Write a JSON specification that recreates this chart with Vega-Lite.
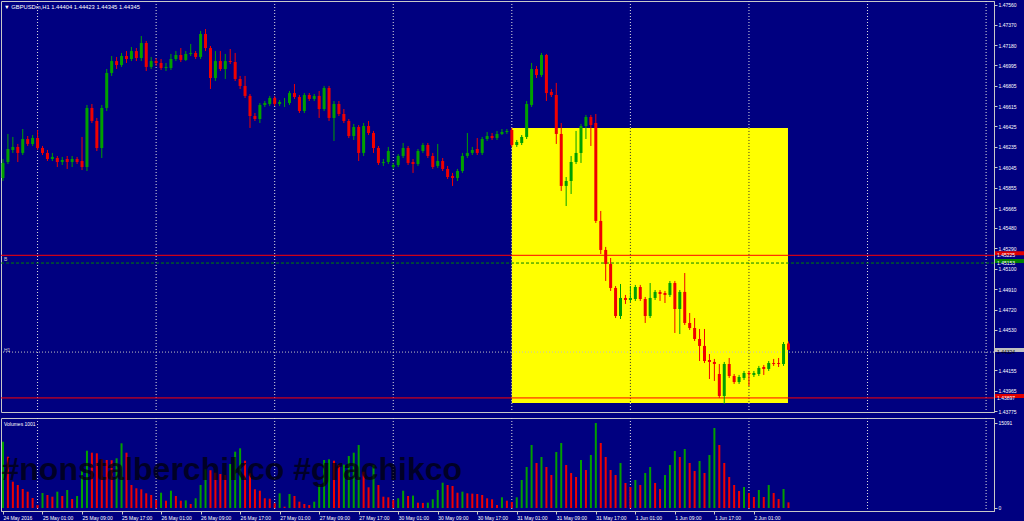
{
"$schema": "https://vega.github.io/schema/vega-lite/v6.json",
"background": "#000080",
"padding": 0,
"spacing": 2,
"config": {
  "font": "Liberation Sans",
  "view": {"stroke": "#c8c8c8", "strokeWidth": 1},
  "axis": {"labelColor": "#ffffff", "labelFontSize": 5, "labelFont": "Liberation Sans", "domainColor": "#c8c8c8", "tickColor": "#c8c8c8", "tickSize": 3, "grid": false, "labelPadding": 1, "labelOverlap": false, "labelSeparation": 0}
},
"datasets": {
  "bars": [
{"i":0,"o":1.45945,"h":1.46122,"l":1.45917,"c":1.46085,"v":11768},
{"i":1,"o":1.46094,"h":1.46355,"l":1.46075,"c":1.46215,"v":9106},
{"i":2,"o":1.46206,"h":1.46327,"l":1.46178,"c":1.46234,"v":4668},
{"i":3,"o":1.46234,"h":1.46262,"l":1.46094,"c":1.46178,"v":4083},
{"i":4,"o":1.46178,"h":1.46401,"l":1.46159,"c":1.46308,"v":3373},
{"i":5,"o":1.46308,"h":1.46336,"l":1.46243,"c":1.46262,"v":2893},
{"i":6,"o":1.46262,"h":1.46345,"l":1.46243,"c":1.46317,"v":1775},
{"i":7,"o":1.46317,"h":1.46392,"l":1.46206,"c":1.46224,"v":533},
{"i":8,"o":1.46224,"h":1.46243,"l":1.46159,"c":1.46178,"v":2663},
{"i":9,"o":1.46178,"h":1.46206,"l":1.46103,"c":1.46122,"v":2308},
{"i":10,"o":1.46122,"h":1.46178,"l":1.46103,"c":1.46141,"v":2006},
{"i":11,"o":1.46131,"h":1.46150,"l":1.46047,"c":1.46094,"v":2893},
{"i":12,"o":1.46094,"h":1.46141,"l":1.46066,"c":1.46113,"v":2130},
{"i":13,"o":1.46122,"h":1.46150,"l":1.46029,"c":1.46094,"v":3195},
{"i":14,"o":1.46094,"h":1.46150,"l":1.46047,"c":1.46122,"v":1598},
{"i":15,"o":1.46122,"h":1.46141,"l":1.46075,"c":1.46094,"v":2130},
{"i":16,"o":1.46103,"h":1.46327,"l":1.46019,"c":1.46047,"v":6621},
{"i":17,"o":1.46047,"h":1.46625,"l":1.46010,"c":1.46597,"v":10171},
{"i":18,"o":1.46597,"h":1.46634,"l":1.46457,"c":1.46476,"v":9816},
{"i":19,"o":1.46476,"h":1.46504,"l":1.46196,"c":1.46224,"v":9709},
{"i":20,"o":1.46224,"h":1.46625,"l":1.46131,"c":1.46597,"v":8644},
{"i":21,"o":1.46597,"h":1.46960,"l":1.46569,"c":1.46923,"v":8520},
{"i":22,"o":1.46923,"h":1.47081,"l":1.46895,"c":1.47034,"v":8480},
{"i":23,"o":1.47034,"h":1.47072,"l":1.46960,"c":1.46997,"v":8822},
{"i":24,"o":1.46997,"h":1.47109,"l":1.46979,"c":1.47081,"v":11484},
{"i":25,"o":1.47081,"h":1.47127,"l":1.47016,"c":1.47053,"v":9816},
{"i":26,"o":1.47053,"h":1.47165,"l":1.47034,"c":1.47127,"v":4083},
{"i":27,"o":1.47127,"h":1.47155,"l":1.47034,"c":1.47062,"v":3497},
{"i":28,"o":1.47062,"h":1.47267,"l":1.47034,"c":1.47202,"v":3319},
{"i":29,"o":1.47202,"h":1.47221,"l":1.46941,"c":1.46979,"v":2609},
{"i":30,"o":1.46979,"h":1.47072,"l":1.46960,"c":1.47034,"v":2308},
{"i":31,"o":1.47034,"h":1.47062,"l":1.46988,"c":1.47016,"v":1420},
{"i":32,"o":1.47016,"h":1.47053,"l":1.46951,"c":1.46969,"v":2716},
{"i":33,"o":1.46969,"h":1.47016,"l":1.46941,"c":1.46979,"v":1296},
{"i":34,"o":1.46969,"h":1.47100,"l":1.46951,"c":1.47053,"v":3071},
{"i":35,"o":1.47053,"h":1.47127,"l":1.47034,"c":1.47090,"v":2130},
{"i":36,"o":1.47090,"h":1.47155,"l":1.47025,"c":1.47044,"v":1296},
{"i":37,"o":1.47044,"h":1.47127,"l":1.47034,"c":1.47100,"v":1350},
{"i":38,"o":1.47100,"h":1.47193,"l":1.47081,"c":1.47109,"v":710},
{"i":39,"o":1.47109,"h":1.47127,"l":1.47053,"c":1.47072,"v":1722},
{"i":40,"o":1.47072,"h":1.47314,"l":1.47053,"c":1.47286,"v":4083},
{"i":41,"o":1.47286,"h":1.47332,"l":1.47127,"c":1.47155,"v":6869},
{"i":42,"o":1.47155,"h":1.47174,"l":1.46774,"c":1.46876,"v":6700},
{"i":43,"o":1.46876,"h":1.47127,"l":1.46848,"c":1.47034,"v":6266},
{"i":44,"o":1.47034,"h":1.47127,"l":1.46941,"c":1.46960,"v":6035},
{"i":45,"o":1.46960,"h":1.47100,"l":1.46867,"c":1.47034,"v":5858},
{"i":46,"o":1.47034,"h":1.47146,"l":1.47006,"c":1.47025,"v":7810},
{"i":47,"o":1.47025,"h":1.47109,"l":1.46848,"c":1.46867,"v":9993},
{"i":48,"o":1.46867,"h":1.46895,"l":1.46774,"c":1.46802,"v":10597},
{"i":49,"o":1.46802,"h":1.46895,"l":1.46690,"c":1.46709,"v":8396},
{"i":50,"o":1.46709,"h":1.46727,"l":1.46411,"c":1.46522,"v":6159},
{"i":51,"o":1.46522,"h":1.46550,"l":1.46476,"c":1.46494,"v":3319},
{"i":52,"o":1.46494,"h":1.46643,"l":1.46457,"c":1.46625,"v":3071},
{"i":53,"o":1.46625,"h":1.46662,"l":1.46606,"c":1.46643,"v":1722},
{"i":54,"o":1.46634,"h":1.46709,"l":1.46615,"c":1.46690,"v":1650},
{"i":55,"o":1.46690,"h":1.46709,"l":1.46615,"c":1.46634,"v":834},
{"i":56,"o":1.46634,"h":1.46671,"l":1.46615,"c":1.46653,"v":2609},
{"i":57,"o":1.46643,"h":1.46690,"l":1.46606,"c":1.46643,"v":231},
{"i":58,"o":1.46643,"h":1.46755,"l":1.46625,"c":1.46736,"v":2485},
{"i":59,"o":1.46736,"h":1.46820,"l":1.46681,"c":1.46699,"v":2130},
{"i":60,"o":1.46699,"h":1.46718,"l":1.46550,"c":1.46569,"v":1118},
{"i":61,"o":1.46569,"h":1.46736,"l":1.46550,"c":1.46718,"v":710},
{"i":62,"o":1.46718,"h":1.46736,"l":1.46662,"c":1.46681,"v":533},
{"i":63,"o":1.46681,"h":1.46727,"l":1.46662,"c":1.46709,"v":1118},
{"i":64,"o":1.46709,"h":1.46755,"l":1.46504,"c":1.46587,"v":4083},
{"i":65,"o":1.46587,"h":1.46802,"l":1.46569,"c":1.46783,"v":8520},
{"i":66,"o":1.46783,"h":1.46802,"l":1.46476,"c":1.46504,"v":8644},
{"i":67,"o":1.46504,"h":1.46662,"l":1.46290,"c":1.46634,"v":8396},
{"i":68,"o":1.46634,"h":1.46662,"l":1.46522,"c":1.46541,"v":7633},
{"i":69,"o":1.46541,"h":1.46587,"l":1.46457,"c":1.46476,"v":7700},
{"i":70,"o":1.46476,"h":1.46494,"l":1.46317,"c":1.46336,"v":9230},
{"i":71,"o":1.46336,"h":1.46448,"l":1.46299,"c":1.46420,"v":9816},
{"i":72,"o":1.46420,"h":1.46438,"l":1.46103,"c":1.46178,"v":11183},
{"i":73,"o":1.46178,"h":1.46457,"l":1.46150,"c":1.46429,"v":6443},
{"i":74,"o":1.46429,"h":1.46476,"l":1.46345,"c":1.46364,"v":3674},
{"i":75,"o":1.46364,"h":1.46383,"l":1.46178,"c":1.46224,"v":7633},
{"i":76,"o":1.46224,"h":1.46243,"l":1.46066,"c":1.46085,"v":4083},
{"i":77,"o":1.46085,"h":1.46122,"l":1.46057,"c":1.46094,"v":2006},
{"i":78,"o":1.46094,"h":1.46234,"l":1.46075,"c":1.46196,"v":1899},
{"i":79,"o":1.46047,"h":1.46085,"l":1.46029,"c":1.46066,"v":1400},
{"i":80,"o":1.46066,"h":1.46168,"l":1.46047,"c":1.46150,"v":1722},
{"i":81,"o":1.46150,"h":1.46271,"l":1.46131,"c":1.46224,"v":3071},
{"i":82,"o":1.46224,"h":1.46243,"l":1.46066,"c":1.46085,"v":2130},
{"i":83,"o":1.46094,"h":1.46122,"l":1.45992,"c":1.46075,"v":2200},
{"i":84,"o":1.46075,"h":1.46215,"l":1.46057,"c":1.46196,"v":941},
{"i":85,"o":1.46196,"h":1.46271,"l":1.46178,"c":1.46252,"v":900},
{"i":86,"o":1.46252,"h":1.46271,"l":1.46131,"c":1.46150,"v":950},
{"i":87,"o":1.46150,"h":1.46178,"l":1.46029,"c":1.46047,"v":1544},
{"i":88,"o":1.46057,"h":1.46262,"l":1.46038,"c":1.46103,"v":3195},
{"i":89,"o":1.46103,"h":1.46131,"l":1.46010,"c":1.46029,"v":4491},
{"i":90,"o":1.46029,"h":1.46057,"l":1.45936,"c":1.45954,"v":4083},
{"i":91,"o":1.45964,"h":1.45992,"l":1.45871,"c":1.45945,"v":3905},
{"i":92,"o":1.45945,"h":1.46029,"l":1.45917,"c":1.46010,"v":2716},
{"i":93,"o":1.46010,"h":1.46178,"l":1.45992,"c":1.46150,"v":2893},
{"i":94,"o":1.46150,"h":1.46364,"l":1.46131,"c":1.46178,"v":2609},
{"i":95,"o":1.46178,"h":1.46234,"l":1.46159,"c":1.46206,"v":2550},
{"i":96,"o":1.46215,"h":1.46317,"l":1.46159,"c":1.46178,"v":2485},
{"i":97,"o":1.46178,"h":1.46327,"l":1.46159,"c":1.46308,"v":2308},
{"i":98,"o":1.46308,"h":1.46373,"l":1.46290,"c":1.46336,"v":1722},
{"i":99,"o":1.46336,"h":1.46364,"l":1.46299,"c":1.46317,"v":1544},
{"i":100,"o":1.46317,"h":1.46383,"l":1.46299,"c":1.46355,"v":533},
{"i":101,"o":1.46355,"h":1.46401,"l":1.46345,"c":1.46373,"v":1899},
{"i":102,"o":1.46373,"h":1.46401,"l":1.46355,"c":1.46383,"v":1296},
{"i":103,"o":1.46392,"h":1.46411,"l":1.46234,"c":1.46252,"v":1065},
{"i":104,"o":1.46252,"h":1.46299,"l":1.46234,"c":1.46280,"v":1899},
{"i":105,"o":1.46271,"h":1.46345,"l":1.46252,"c":1.46327,"v":4970},
{"i":106,"o":1.46327,"h":1.46662,"l":1.46308,"c":1.46634,"v":7278},
{"i":107,"o":1.46625,"h":1.47016,"l":1.46606,"c":1.46960,"v":11183},
{"i":108,"o":1.46960,"h":1.46988,"l":1.46876,"c":1.46904,"v":7988},
{"i":109,"o":1.46904,"h":1.47109,"l":1.46885,"c":1.47090,"v":9053},
{"i":110,"o":1.47090,"h":1.47100,"l":1.46662,"c":1.46736,"v":7278},
{"i":111,"o":1.46746,"h":1.46774,"l":1.46699,"c":1.46718,"v":5858},
{"i":112,"o":1.46718,"h":1.46830,"l":1.46262,"c":1.46355,"v":9940},
{"i":113,"o":1.46355,"h":1.46457,"l":1.45824,"c":1.45871,"v":11538},
{"i":114,"o":1.45871,"h":1.45954,"l":1.45684,"c":1.45917,"v":7633},
{"i":115,"o":1.45917,"h":1.46150,"l":1.45796,"c":1.46094,"v":6213},
{"i":116,"o":1.46094,"h":1.46383,"l":1.46075,"c":1.46178,"v":5503},
{"i":117,"o":1.46178,"h":1.46448,"l":1.46085,"c":1.46429,"v":8520},
{"i":118,"o":1.46429,"h":1.46532,"l":1.46308,"c":1.46513,"v":6745},
{"i":119,"o":1.46513,"h":1.46532,"l":1.46243,"c":1.46438,"v":9408},
{"i":120,"o":1.46457,"h":1.46541,"l":1.45526,"c":1.45545,"v":15091},
{"i":121,"o":1.45545,"h":1.45638,"l":1.45237,"c":1.45275,"v":11538},
{"i":122,"o":1.45275,"h":1.45303,"l":1.44986,"c":1.45144,"v":9053},
{"i":123,"o":1.45144,"h":1.45200,"l":1.44893,"c":1.44921,"v":6745},
{"i":124,"o":1.44921,"h":1.44939,"l":1.44641,"c":1.44660,"v":5858},
{"i":125,"o":1.44660,"h":1.44958,"l":1.44632,"c":1.44828,"v":7988},
{"i":126,"o":1.44828,"h":1.44856,"l":1.44772,"c":1.44809,"v":4438},
{"i":127,"o":1.44809,"h":1.44939,"l":1.44790,"c":1.44828,"v":3728},
{"i":128,"o":1.44818,"h":1.44949,"l":1.44800,"c":1.44930,"v":4970},
{"i":129,"o":1.44930,"h":1.44949,"l":1.44800,"c":1.44818,"v":4083},
{"i":130,"o":1.44818,"h":1.44837,"l":1.44595,"c":1.44660,"v":6213},
{"i":131,"o":1.44660,"h":1.44967,"l":1.44641,"c":1.44828,"v":7278},
{"i":132,"o":1.44828,"h":1.44902,"l":1.44809,"c":1.44884,"v":4438},
{"i":133,"o":1.44884,"h":1.44902,"l":1.44800,"c":1.44865,"v":3373},
{"i":134,"o":1.44874,"h":1.44893,"l":1.44781,"c":1.44856,"v":5858},
{"i":135,"o":1.44856,"h":1.44986,"l":1.44837,"c":1.44967,"v":7633},
{"i":136,"o":1.44967,"h":1.44986,"l":1.44502,"c":1.44725,"v":10118},
{"i":137,"o":1.44725,"h":1.44902,"l":1.44492,"c":1.44884,"v":9053},
{"i":138,"o":1.44884,"h":1.45060,"l":1.44576,"c":1.44595,"v":10473},
{"i":139,"o":1.44595,"h":1.44688,"l":1.44530,"c":1.44548,"v":7988},
{"i":140,"o":1.44548,"h":1.44641,"l":1.44427,"c":1.44446,"v":6568},
{"i":141,"o":1.44446,"h":1.44539,"l":1.44241,"c":1.44381,"v":8343},
{"i":142,"o":1.44381,"h":1.44539,"l":1.44222,"c":1.44241,"v":6213},
{"i":143,"o":1.44250,"h":1.44306,"l":1.44073,"c":1.44232,"v":9408},
{"i":144,"o":1.44232,"h":1.44260,"l":1.44055,"c":1.44213,"v":14200},
{"i":145,"o":1.44120,"h":1.44213,"l":1.43897,"c":1.43915,"v":11183},
{"i":146,"o":1.43915,"h":1.44232,"l":1.43841,"c":1.44213,"v":7988},
{"i":147,"o":1.44213,"h":1.44269,"l":1.44083,"c":1.44101,"v":5503},
{"i":148,"o":1.44101,"h":1.44120,"l":1.44027,"c":1.44045,"v":4083},
{"i":149,"o":1.44045,"h":1.44111,"l":1.44027,"c":1.44092,"v":3018},
{"i":150,"o":1.44083,"h":1.44148,"l":1.44064,"c":1.44129,"v":3728},
{"i":151,"o":1.44129,"h":1.44148,"l":1.44008,"c":1.44120,"v":2663},
{"i":152,"o":1.44111,"h":1.44148,"l":1.44092,"c":1.44129,"v":1953},
{"i":153,"o":1.44120,"h":1.44195,"l":1.44101,"c":1.44176,"v":3195},
{"i":154,"o":1.44185,"h":1.44204,"l":1.44111,"c":1.44167,"v":1953},
{"i":155,"o":1.44167,"h":1.44241,"l":1.44148,"c":1.44222,"v":4083},
{"i":156,"o":1.44222,"h":1.44260,"l":1.44195,"c":1.44213,"v":2663},
{"i":157,"o":1.44222,"h":1.44269,"l":1.44185,"c":1.44213,"v":1598},
{"i":158,"o":1.44213,"h":1.44418,"l":1.44195,"c":1.44399,"v":3373},
{"i":159,"o":1.44404,"h":1.44423,"l":1.44345,"c":1.44345,"v":1001}
  ],
  "grid": [{"g":7},{"g":31},{"g":55},{"g":79},{"g":103},{"g":127},{"g":151},{"g":175},{"g":199}],
  "boxes": [
    {"p":1.45225,"t":"1.45225","bg":"red"},
    {"p":1.45153,"t":"1.45153","bg":"green"},
    {"p":1.44324,"t":"1.44324","bg":"grey"},
    {"p":1.43897,"t":"1.43897","bg":"red"}
  ]
},
"vconcat": [
{
  "width": 993,
  "height": 411,
  "layer": [
    {
      "data": {"name": "grid"},
      "mark": {"type": "rule", "color": "#e0e0e0", "strokeDash": [1, 2], "strokeWidth": 1},
      "encoding": {
        "x": {"field": "g", "type": "quantitative", "title": null, "scale": {"domain": [-0.4, 200.6], "nice": false, "zero": false, "padding": 0}, "axis": null}
      }
    },
    {
      "data": {"values": [{}]},
      "mark": {"type": "rect", "color": "#ffff00"},
      "encoding": {
        "x": {"datum": 103, "type": "quantitative"},
        "x2": {"datum": 158.9},
        "y": {"datum": 1.46411, "type": "quantitative", "title": null,
              "scale": {"domain": [1.43766, 1.47593], "nice": false, "zero": false},
              "axis": {"orient": "right", "values": [1.4756, 1.4737, 1.4718, 1.46995, 1.46805, 1.46615, 1.46425, 1.46235, 1.46045, 1.45855, 1.45665, 1.4548, 1.4529, 1.451, 1.4491, 1.4472, 1.4453, 1.44155, 1.43965, 1.43775], "tickCount": 40, "format": ".5f", "labelOverlap": false, "title": null}},
        "y2": {"datum": 1.43850}
      }
    },
    {
      "data": {"name": "grid"},
      "transform": [{"filter": "datum.g > 103 && datum.g < 159"}],
      "mark": {"type": "rule", "color": "#303030", "strokeDash": [1, 2], "strokeWidth": 1},
      "encoding": {
        "x": {"field": "g", "type": "quantitative", "title": null},
        "y": {"datum": 1.46411, "type": "quantitative"},
        "y2": {"datum": 1.43850}
      }
    },
    {
      "data": {"values": [{}]},
      "mark": {"type": "rule", "color": "#008000", "strokeDash": [3, 2], "strokeWidth": 1},
      "encoding": {"y": {"datum": 1.45153, "type": "quantitative"}}
    },
    {
      "data": {"values": [{}]},
      "mark": {"type": "rule", "color": "#c0c0c0", "strokeDash": [1, 2], "strokeWidth": 1},
      "encoding": {"y": {"datum": 1.44324, "type": "quantitative"}}
    },
    {
      "data": {"values": [{}]},
      "mark": {"type": "rule", "color": "#ff0000", "strokeWidth": 1},
      "encoding": {"y": {"datum": 1.45225, "type": "quantitative"}}
    },
    {
      "data": {"values": [{}]},
      "mark": {"type": "rule", "color": "#ff0000", "strokeWidth": 1},
      "encoding": {"y": {"datum": 1.43897, "type": "quantitative"}}
    },
    {
      "data": {"name": "bars"},
      "mark": {"type": "rule", "strokeWidth": 1},
      "encoding": {
        "x": {"field": "i", "type": "quantitative", "title": null},
        "y": {"field": "l", "type": "quantitative", "title": null},
        "y2": {"field": "h"},
        "color": {"condition": {"test": "datum.c >= datum.o", "value": "#00a000"}, "value": "#f00000"}
      }
    },
    {
      "data": {"name": "bars"},
      "mark": {"type": "bar", "size": 3},
      "encoding": {
        "x": {"field": "i", "type": "quantitative", "title": null},
        "y": {"field": "o", "type": "quantitative", "title": null},
        "y2": {"field": "c"},
        "color": {"condition": {"test": "datum.c >= datum.o", "value": "#00a000"}, "value": "#f00000"}
      }
    },
    {
      "data": {"values": [{"t": "▼ GBPUSDm,H1  1.44404 1.44423 1.44345 1.44345"}]},
      "mark": {"type": "text", "align": "left", "baseline": "middle", "fontSize": 5.8, "color": "#ffffff"},
      "encoding": {"x": {"datum": 0.2, "type": "quantitative"}, "y": {"datum": 1.47537, "type": "quantitative"}, "text": {"field": "t"}}
    },
    {
      "data": {"values": [{"t": "B", "p": 1.45191}, {"t": "H1", "p": 1.44343}]},
      "mark": {"type": "text", "align": "left", "baseline": "middle", "fontSize": 5, "color": "#d0d0d0"},
      "encoding": {"x": {"datum": 0.2, "type": "quantitative"}, "y": {"field": "p", "type": "quantitative", "title": null}, "text": {"field": "t"}}
    },
    {
      "data": {"name": "boxes"},
      "mark": {"type": "rect"},
      "encoding": {
        "x": {"datum": 200.8, "type": "quantitative"},
        "x2": {"datum": 207.5},
        "y": {"field": "p", "type": "quantitative", "title": null},
        "y2": {"field": "p"},
        "yOffset": {"value": -4},
        "y2Offset": {"value": 4},
        "color": {"field": "bg", "type": "nominal", "legend": null, "scale": {"domain": ["red", "green", "grey"], "range": ["#e00000", "#008000", "#c0c0c0"]}}
      }
    },
    {
      "data": {"name": "boxes"},
      "mark": {"type": "text", "align": "left", "baseline": "middle", "fontSize": 5, "dx": 2},
      "encoding": {
        "x": {"datum": 200.8, "type": "quantitative"},
        "y": {"field": "p", "type": "quantitative", "title": null},
        "text": {"field": "t"},
        "color": {"condition": {"test": "datum.bg == 'grey'", "value": "#000000"}, "value": "#ffffff"}
      }
    }
  ]
},
{
  "width": 993,
  "height": 93,
  "layer": [
    {
      "data": {"name": "grid"},
      "mark": {"type": "rule", "color": "#e0e0e0", "strokeDash": [1, 2], "strokeWidth": 1},
      "encoding": {
        "x": {"field": "g", "type": "quantitative", "title": null,
              "scale": {"domain": [-0.4, 200.6], "nice": false, "zero": false, "padding": 0},
              "axis": {"values": [0, 8, 16, 24, 32, 40, 48, 56, 64, 72, 80, 88, 96, 104, 112, 120, 128, 136, 144, 152], "tickCount": 40,
                       "labelExpr": "['24 May 2016','25 May 01:00','25 May 09:00','25 May 17:00','26 May 01:00','26 May 09:00','26 May 17:00','27 May 01:00','27 May 09:00','27 May 17:00','30 May 01:00','30 May 09:00','30 May 17:00','31 May 01:00','31 May 09:00','31 May 17:00','1 Jun 01:00','1 Jun 09:00','1 Jun 17:00','2 Jun 01:00'][round(datum.value/8)]",
                       "labelAlign": "left", "labelOverlap": false, "labelPadding": 1}}
      }
    },
    {
      "data": {"name": "bars"},
      "transform": [{"window": [{"op": "lag", "field": "v", "as": "pv"}], "sort": [{"field": "i"}]}],
      "mark": {"type": "bar", "size": 2},
      "encoding": {
        "x": {"field": "i", "type": "quantitative", "title": null},
        "y": {"field": "v", "type": "quantitative", "title": null,
              "scale": {"domain": [-533, 15975], "nice": false, "zero": false},
              "axis": {"orient": "right", "values": [0, 15091], "format": "d", "labelOverlap": false}},
        "y2": {"datum": 0},
        "color": {"condition": {"test": "datum.pv == null || datum.v >= datum.pv", "value": "#00a000"}, "value": "#f00000"}
      }
    },
    {
      "data": {"values": [{"t": "#nonstalberchikco #grachikco"}]},
      "mark": {"type": "text", "align": "left", "baseline": "alphabetic", "fontSize": 32, "fontWeight": "bold", "color": "#000000", "opacity": 0.7},
      "encoding": {"x": {"datum": -0.3, "type": "quantitative"}, "y": {"datum": 4900, "type": "quantitative"}, "text": {"field": "t"}}
    },
    {
      "data": {"values": [{"t": "Volumes 1001"}]},
      "mark": {"type": "text", "align": "left", "baseline": "middle", "fontSize": 5, "color": "#ffffff"},
      "encoding": {"x": {"datum": 0.2, "type": "quantitative"}, "y": {"datum": 14900, "type": "quantitative"}, "text": {"field": "t"}}
    }
  ]
}
]
}
